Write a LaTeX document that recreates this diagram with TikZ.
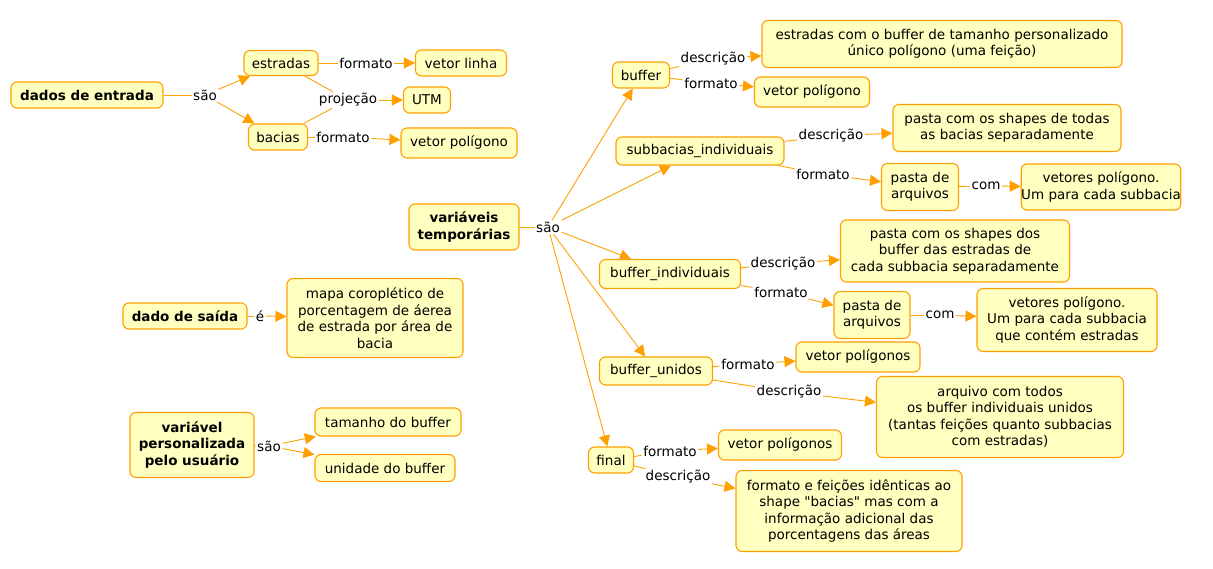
\documentclass[tikz,border=0pt]{standalone}
\usepackage{fontspec}
\setmainfont{DejaVu Sans}
\usetikzlibrary{arrows.meta}
\definecolor{cfill}{RGB}{255,255,192}
\definecolor{cborder}{RGB}{255,160,0}
\definecolor{cline}{RGB}{255,160,0}
\tikzset{
 concept/.style={draw=cborder, fill=cfill, line width=1.1pt, rounded corners=6pt, inner sep=0pt, align=center, font=\fontsize{13.5}{16.5}\selectfont, text=black},
 bconcept/.style={concept, font=\fontsize{13.5}{16.5}\selectfont\bfseries},
 lbl/.style={inner sep=1.5pt, font=\fontsize{13.5}{16.5}\selectfont, text=black},
 link/.style={draw=cline, line width=0.9pt},
 arr/.style={link, -{Triangle[length=11pt,width=11pt]}},
}
\begin{document}
\begin{tikzpicture}[x=1pt,y=-1pt]
\useasboundingbox (0,0) rectangle (1213,569);
% left group
\node[bconcept, minimum width=152pt, minimum height=26pt] (dados) at (87,95) {dados de entrada};
\node[concept, minimum width=74pt, minimum height=25pt] (estradas) at (281,63) {estradas};
\node[concept, minimum width=59pt, minimum height=26pt] (bacias) at (278,137) {bacias};
\node[concept, minimum width=91pt, minimum height=26pt] (vlinha) at (461,63) {vetor linha};
\node[concept, minimum width=47pt, minimum height=26pt] (utm) at (427,100) {UTM};
\node[concept, minimum width=116pt, minimum height=30pt] (vpol1) at (459,143) {vetor polígono};
\node[lbl] (l_sao1) at (205,95) {são};
\node[lbl] (l_fe) at (366,63) {formato};
\node[lbl] (l_proj) at (348,100) {projeção};
\node[lbl] (l_fb) at (343,137) {formato};
\draw[link] (dados) -- (l_sao1);
\draw[arr] (l_sao1) -- (estradas);
\draw[arr] (l_sao1) -- (bacias);
\draw[link] (estradas) -- (l_fe);
\draw[arr] (l_fe) -- (vlinha);
\draw[link] (estradas) -- (l_proj);
\draw[link] (bacias) -- (l_proj);
\draw[arr] (l_proj) -- (utm);
\draw[link] (bacias) -- (l_fb);
\draw[arr] (l_fb) -- (vpol1);
% middle
\node[bconcept, minimum width=110pt, minimum height=46pt] (vtemp) at (464,227) {variáveis\\temporárias};
\node[lbl] (l_sao2) at (548,227) {são};
\node[concept, minimum width=57pt, minimum height=26pt] (buffer) at (641,75) {buffer};
\node[concept, minimum width=168pt, minimum height=28pt] (subb) at (700,151) {subbacias\_individuais};
\node[concept, minimum width=141pt, minimum height=29pt] (bind) at (670,274) {buffer\_individuais};
\node[concept, minimum width=113pt, minimum height=28pt] (buni) at (656,371) {buffer\_unidos};
\node[concept, minimum width=45pt, minimum height=26pt] (final) at (611,460) {final};
\draw[link] (vtemp) -- (l_sao2);
\draw[arr] (l_sao2) -- (buffer);
\draw[arr] (l_sao2) -- (subb);
\draw[arr] (l_sao2) -- (bind);
\draw[arr] (l_sao2) -- (buni);
\draw[arr] (l_sao2) -- (final);
% buffer
\node[concept, minimum width=360pt, minimum height=47pt] (bdesc) at (942,44) {estradas com o buffer de tamanho personalizado\\único polígono (uma feição)};
\node[concept, minimum width=115pt, minimum height=30pt] (vpol2) at (812,92) {vetor polígono};
\node[lbl] (l_bd) at (713,59) {descrição};
\node[lbl] (l_bf) at (711,83) {formato};
\draw[link] (buffer) -- (l_bd);
\draw[arr] (l_bd) -- (bdesc);
\draw[link] (buffer) -- (l_bf);
\draw[arr] (l_bf) -- (vpol2);
% subbacias
\node[concept, minimum width=228pt, minimum height=47pt] (sdesc) at (1007,128) {pasta com os shapes de todas\\as bacias separadamente};
\node[concept, minimum width=77pt, minimum height=47pt] (pasta1) at (920,187) {pasta de\\arquivos};
\node[concept, minimum width=152pt, minimum height=46pt] (vets1) at (1101,187) {vetores polígono.\\Um para cada subbacia};
\node[lbl] (l_sd) at (831,136) {descrição};
\node[lbl] (l_sf) at (823,174) {formato};
\node[lbl] (l_c1) at (986,186) {com};
\draw[link] (subb) -- (l_sd);
\draw[arr] (l_sd) -- (sdesc);
\draw[link] (subb) -- (l_sf);
\draw[arr] (l_sf) -- (pasta1);
\draw[link] (pasta1) -- (l_c1);
\draw[arr] (l_c1) -- (vets1);
% buffer_individuais
\node[concept, minimum width=229pt, minimum height=62pt] (idesc) at (955,251) {pasta com os shapes dos\\buffer das estradas de\\cada subbacia separadamente};
\node[concept, minimum width=76pt, minimum height=47pt] (pasta2) at (872,315) {pasta de\\arquivos};
\node[concept, minimum width=180pt, minimum height=63pt] (vets2) at (1067,320) {vetores polígono.\\Um para cada subbacia\\que contém estradas};
\node[lbl] (l_id) at (783,264) {descrição};
\node[lbl] (l_if) at (781,292) {formato};
\node[lbl] (l_c2) at (940,315) {com};
\draw[link] (bind) -- (l_id);
\draw[arr] (l_id) -- (idesc);
\draw[link] (bind) -- (l_if);
\draw[arr] (l_if) -- (pasta2);
\draw[link] (pasta2) -- (l_c2);
\draw[arr] (l_c2) -- (vets2);
% buffer_unidos
\node[concept, minimum width=124pt, minimum height=30pt] (vpols1) at (858,357) {vetor polígonos};
\node[concept, minimum width=247pt, minimum height=81pt] (udesc) at (1000,417) {arquivo com todos\\os buffer individuais unidos\\(tantas feições quanto subbacias\\com estradas)};
\node[lbl] (l_uf) at (748,364) {formato};
\node[lbl] (l_ud) at (789,392) {descrição};
\draw[link] (buni) -- (l_uf);
\draw[arr] (l_uf) -- (vpols1);
\draw[link] (buni) -- (l_ud);
\draw[arr] (l_ud) -- (udesc);
% final
\node[concept, minimum width=123pt, minimum height=30pt] (vpols2) at (780,445) {vetor polígonos};
\node[concept, minimum width=226pt, minimum height=81pt] (fdesc) at (849,511) {formato e feições idênticas ao\\shape \textquotedbl bacias\textquotedbl{} mas com a\\informação adicional das\\porcentagens das áreas};
\node[lbl] (l_ff) at (670,451) {formato};
\node[lbl] (l_fd) at (678,477) {descrição};
\draw[link] (final) -- (l_ff);
\draw[arr] (l_ff) -- (vpols2);
\draw[link] (final) -- (l_fd);
\draw[arr] (l_fd) -- (fdesc);
% bottom left
\node[bconcept, minimum width=124pt, minimum height=26pt] (saida) at (185,316) {dado de saída};
\node[concept, minimum width=176pt, minimum height=79pt] (mapa) at (375,318) {mapa coroplético de\\porcentagem de áerea\\de estrada por área de\\bacia};
\node[lbl] (l_e) at (260,316) {é};
\draw[link] (saida) -- (l_e);
\draw[arr] (l_e) -- (mapa);
\node[bconcept, minimum width=124pt, minimum height=65pt] (vpers) at (192,445) {variável\\personalizada\\pelo usuário};
\node[concept, minimum width=146pt, minimum height=28pt] (tam) at (388,422) {tamanho do buffer};
\node[concept, minimum width=140pt, minimum height=27pt] (uni) at (385,468) {unidade do buffer};
\node[lbl] (l_sao3) at (269,446) {são};
\draw[link] (vpers) -- (l_sao3);
\draw[arr] (l_sao3) -- (tam);
\draw[arr] (l_sao3) -- (uni);
\end{tikzpicture}
\end{document}
